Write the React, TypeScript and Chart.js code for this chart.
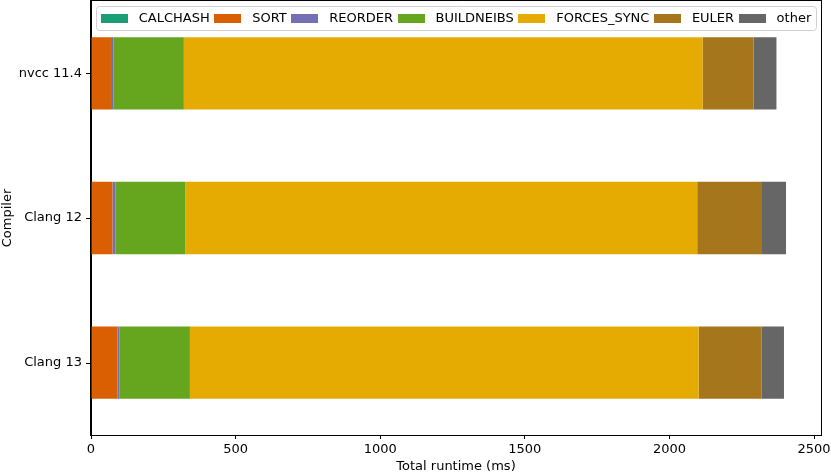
import React, { useEffect, useRef } from "react";
import { Chart, registerables } from "chart.js";

Chart.register(...registerables);

const categories = ["nvcc 11.4", "Clang 12", "Clang 13"];
const seriesNames = ["CALCHASH", "SORT", "REORDER", "BUILDNEIBS", "FORCES_SYNC", "EULER", "other"];
const calchash = [2, 2, 2];
const sort = [67, 72, 90];
const reorder = [8, 10, 7];
const buildneibs = [244, 242, 243];
const forcesSync = [1794, 1770, 1759];
const euler = [176, 221, 218];
const other = [79, 86, 77];
const seriesValues = [calchash, sort, reorder, buildneibs, forcesSync, euler, other];
const colors = ["#1b9e77", "#d95f02", "#7570b3", "#66a61e", "#e6ab02", "#a6761d", "#666666"];
const xTicks = [0, 500, 1000, 1500, 2000, 2500];
const xMax = 2524;
const xTitle = "Total runtime (ms)";
const yTitle = "Compiler";

const FONT = '"DejaVu Sans", "Liberation Sans", sans-serif';

const framePlugin = {
  id: "mplFrame",
  afterDraw(chart: any) {
    const { ctx, chartArea: ca } = chart;
    ctx.save();
    ctx.strokeStyle = "#000000";
    ctx.lineWidth = 1;
    ctx.strokeRect(Math.round(ca.left) - 0.5, Math.round(ca.top) - 0.5, Math.round(ca.right - ca.left) + 1, Math.round(ca.bottom - ca.top) + 1);
    const ys = chart.scales.y;
    const left = Math.round(ca.left);
    categories.forEach((_c, i) => {
      const y = Math.round(ys.getPixelForValue(i));
      ctx.fillStyle = "#000000";
      ctx.fillRect(left - 5, y, 5, 1);
    });
    ctx.restore();
  },
};

const legendPlugin = {
  id: "mplLegend",
  afterDraw(chart: any) {
    const { ctx, chartArea: ca } = chart;
    ctx.save();
    ctx.font = `13px ${FONT}`;
    const sw = 27, sh = 9, gapIn = 11, gapOut = 4.5, padX = 5;
    const items = chart.data.datasets.map((d: any) => ({
      label: d.label,
      color: d.backgroundColor,
      w: ctx.measureText(d.label).width,
    }));
    const total = items.reduce((s: number, it: any) => s + sw + gapIn + it.w, 0) + gapOut * (items.length - 1);
    const boxW = total + 2 * padX;
    const cx = (ca.left + ca.right) / 2;
    const bx = cx - boxW / 2;
    const by = ca.top + 5;
    const bh = 24;
    ctx.beginPath();
    (ctx as any).roundRect(Math.round(bx) + 0.5, Math.round(by) + 0.5, Math.round(boxW), bh, 3);
    ctx.fillStyle = "rgba(255,255,255,0.8)";
    ctx.fill();
    ctx.strokeStyle = "#d0d0d0";
    ctx.lineWidth = 1;
    ctx.stroke();
    let x = bx + padX;
    const cy = by + bh / 2;
    ctx.textBaseline = "middle";
    ctx.textAlign = "left";
    items.forEach((it: any) => {
      ctx.fillStyle = it.color;
      ctx.fillRect(Math.round(x), Math.round(cy - sh / 2), sw, sh);
      x += sw + gapIn;
      ctx.fillStyle = "#000000";
      ctx.fillText(it.label, x, cy + 0.5);
      x += it.w + gapOut;
    });
    ctx.restore();
  },
};

export default function App() {
  const ref = useRef<HTMLCanvasElement | null>(null);
  useEffect(() => {
    if (!ref.current) return;
    const chart = new Chart(ref.current, {
      type: "bar",
      data: {
        labels: categories,
        datasets: seriesNames.map((name, i) => ({
          label: name,
          data: seriesValues[i],
          backgroundColor: colors[i],
          borderWidth: 0,
          barPercentage: 0.5,
          categoryPercentage: 1.0,
        })),
      },
      options: {
        indexAxis: "y",
        responsive: false,
        animation: false,
        devicePixelRatio: 1,
        layout: { padding: { left: 0, right: 10, top: 1, bottom: 0 } },
        plugins: {
          legend: { display: false },
          tooltip: { enabled: false },
        },
        scales: {
          x: {
            stacked: true,
            min: 0,
            max: xMax,
            afterBuildTicks: (axis: any) => {
              axis.ticks = xTicks.map((v) => ({ value: v }));
            },
            afterFit: (scale: any) => {
              scale.height = 40;
              scale.paddingLeft = 0;
              scale.paddingRight = 0;
            },
            ticks: {
              color: "#000000",
              font: { family: FONT, size: 13 },
              padding: 3,
              maxRotation: 0,
              autoSkip: false,
              callback: (v: any) => String(v),
            },
            grid: {
              drawOnChartArea: false,
              drawTicks: true,
              tickLength: 4,
              tickColor: "#000000",
            },
            border: { display: true, color: "#000000" },
            title: {
              display: true,
              text: xTitle,
              color: "#000000",
              font: { family: FONT, size: 13 },
              padding: { top: 0, bottom: 1 },
            },
          },
          y: {
            stacked: true,
            afterFit: (scale: any) => {
              scale.width = 91;
              scale.paddingTop = 0;
              scale.paddingBottom = 0;
            },
            ticks: {
              color: "#000000",
              font: { family: FONT, size: 13 },
              padding: 1,
            },
            grid: {
              display: false,
            },
            border: { display: true, color: "#000000" },
            title: {
              display: true,
              text: yTitle,
              color: "#000000",
              font: { family: FONT, size: 13 },
              padding: { top: 0, bottom: 0 },
            },
          },
        },
      },
      plugins: [framePlugin, legendPlugin],
    } as any);
    return () => chart.destroy();
  }, []);
  return (
    <div style={{ position: "absolute", left: 0, top: 0, width: 831, height: 475 }}>
      <canvas ref={ref} width={831} height={475} />
    </div>
  );
}
